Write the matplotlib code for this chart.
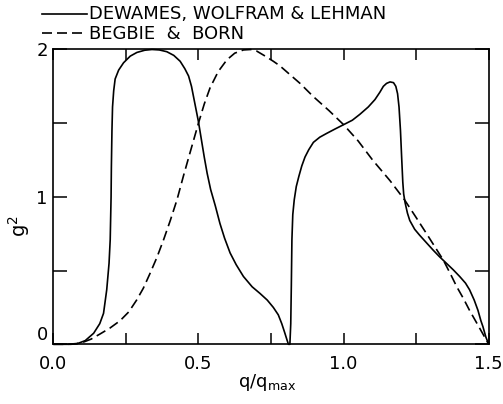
import matplotlib
matplotlib.use("Agg")
import matplotlib.pyplot as plt
from matplotlib.lines import Line2D
from matplotlib.ticker import MultipleLocator, FixedLocator, FixedFormatter

plt.rcParams['font.family'] = ['DejaVu Sans']

# DeWames, Wolfram & Lehman (solid)
solid_x = [0.0, 0.06, 0.081, 0.11, 0.139, 0.16, 0.173, 0.184, 0.192, 0.196, 0.199, 0.200,
           0.202, 0.204, 0.208, 0.213, 0.225, 0.242, 0.265, 0.288, 0.315, 0.34, 0.365,
           0.391, 0.415, 0.437, 0.453, 0.466, 0.476, 0.483, 0.492, 0.50, 0.51, 0.52, 0.53,
           0.542, 0.558, 0.574, 0.59, 0.609, 0.63, 0.655, 0.685, 0.712, 0.737, 0.758,
           0.775, 0.787, 0.797, 0.805, 0.81, 0.815, 0.818, 0.820, 0.822, 0.825, 0.83,
           0.837, 0.846, 0.856, 0.867, 0.88, 0.896, 0.918, 0.941, 0.97, 1.0, 1.03, 1.056,
           1.085, 1.108, 1.125, 1.137, 1.148, 1.16, 1.172, 1.18, 1.186, 1.191, 1.196, 1.20,
           1.204, 1.207, 1.212, 1.22, 1.228, 1.245, 1.262, 1.285, 1.308, 1.33, 1.354,
           1.378, 1.40, 1.42, 1.434, 1.45, 1.463, 1.473, 1.48, 1.49, 1.5]
solid_y = [0.0, 0.0, 0.003, 0.025, 0.075, 0.14, 0.21, 0.37, 0.55, 0.71, 1.0, 1.2,
           1.45, 1.61, 1.72, 1.80, 1.86, 1.91, 1.955, 1.98, 1.995, 2.0, 1.997,
           1.985, 1.96, 1.92, 1.87, 1.82, 1.75, 1.68, 1.59, 1.51, 1.39, 1.27, 1.16,
           1.05, 0.94, 0.82, 0.72, 0.62, 0.54, 0.46, 0.39, 0.345, 0.30, 0.25,
           0.20, 0.14, 0.08, 0.03, 0.0, 0.0, 0.14, 0.40, 0.71, 0.88, 0.98,
           1.07, 1.14, 1.21, 1.27, 1.32, 1.37, 1.405, 1.43, 1.46, 1.49, 1.52, 1.56,
           1.61, 1.66, 1.71, 1.75, 1.77, 1.78, 1.775, 1.75, 1.70, 1.61, 1.45, 1.27,
           1.10, 1.02, 0.96, 0.89, 0.84, 0.78, 0.74, 0.69, 0.64, 0.595, 0.55,
           0.505, 0.46, 0.415, 0.37, 0.30, 0.23, 0.16, 0.12, 0.05, 0.0]

# Begbie & Born (dashed)
dashed_x = [0.0, 0.05, 0.08, 0.104, 0.13, 0.161, 0.195, 0.23, 0.26, 0.287, 0.31, 0.333,
            0.357, 0.38, 0.403, 0.426, 0.448, 0.471, 0.50, 0.52, 0.54, 0.568, 0.598,
            0.625, 0.655, 0.68, 0.70, 0.73, 0.758, 0.78, 0.85, 0.896, 0.95, 1.0, 1.05,
            1.10, 1.16, 1.21, 1.25, 1.286, 1.315, 1.344, 1.37, 1.39, 1.413, 1.434, 1.46,
            1.48, 1.5]
dashed_y = [0.0, 0.0, 0.005, 0.015, 0.035, 0.07, 0.11, 0.16, 0.22, 0.30, 0.38, 0.48,
            0.59, 0.71, 0.84, 0.98, 1.14, 1.30, 1.50, 1.63, 1.74, 1.85, 1.93,
            1.975, 1.997, 2.0, 1.99, 1.955, 1.92, 1.89, 1.77, 1.68, 1.585, 1.49, 1.38,
            1.25, 1.11, 0.98, 0.86, 0.75, 0.66, 0.57, 0.47, 0.39, 0.31, 0.23, 0.14,
            0.07, 0.0]

series_labels = ["DEWAMES, WOLFRAM & LEHMAN", "BEGBIE  &  BORN"]
x_ticklabels = ["0.0", "0.5", "1.0", "1.5"]
y_ticklabels = ["0", "1", "2"]

fig = plt.figure(figsize=(5.03, 4.04), dpi=100)
ax = fig.add_axes([0.106, 0.1478, 0.8656, 0.7297])

lw = 1.2
ax.plot(solid_x, solid_y, color='black', lw=lw, clip_on=False, solid_capstyle='butt')
ax.plot(dashed_x, dashed_y, color='black', lw=lw, dashes=(6, 3), clip_on=False)

ax.set_xlim(0, 1.5)
ax.set_ylim(0, 2)

ax.xaxis.set_major_locator(FixedLocator([0.0, 0.5, 1.0, 1.5]))
ax.xaxis.set_major_formatter(FixedFormatter(x_ticklabels))
ax.xaxis.set_minor_locator(MultipleLocator(0.25))
ax.yaxis.set_major_locator(FixedLocator([0, 1, 2]))
ax.yaxis.set_major_formatter(FixedFormatter(y_ticklabels))
ax.yaxis.set_minor_locator(MultipleLocator(0.5))

ax.tick_params(axis='both', which='both', direction='in', top=True, right=True,
               width=1.1, labelsize=13)
ax.tick_params(axis='x', which='both', length=8, pad=8)
ax.tick_params(axis='y', which='both', length=10, pad=4)

# the "0" on the y axis sits just above the axis, clear of "0.0"
ax.yaxis.get_major_ticks()[0].label1.set_verticalalignment('bottom')

for s in ax.spines.values():
    s.set_linewidth(1.2)

ax.set_xlabel(r"q/q$_{\mathregular{max}}$", fontsize=13)
ax.xaxis.set_label_coords(0.49, -0.095)
ax.set_ylabel(r"g$^{\mathregular{2}}$", fontsize=14)
ax.yaxis.set_label_coords(-0.05, 0.40)

# legend drawn in figure coordinates (text above the axes)
W, H = 503.0, 404.0
fig.add_artist(Line2D([42 / W, 87 / W], [1 - 14 / H, 1 - 14 / H], color='black', lw=lw))
fig.add_artist(Line2D([42 / W, 84 / W], [1 - 33 / H, 1 - 33 / H], color='black', lw=lw,
                      dashes=(6, 3)))
fig.text(89 / W, 1 - 14 / H, series_labels[0], fontsize=13, va='center', ha='left')
fig.text(89 / W, 1 - 34 / H, series_labels[1], fontsize=13, va='center', ha='left')

fig.savefig("out.png", dpi=100)
